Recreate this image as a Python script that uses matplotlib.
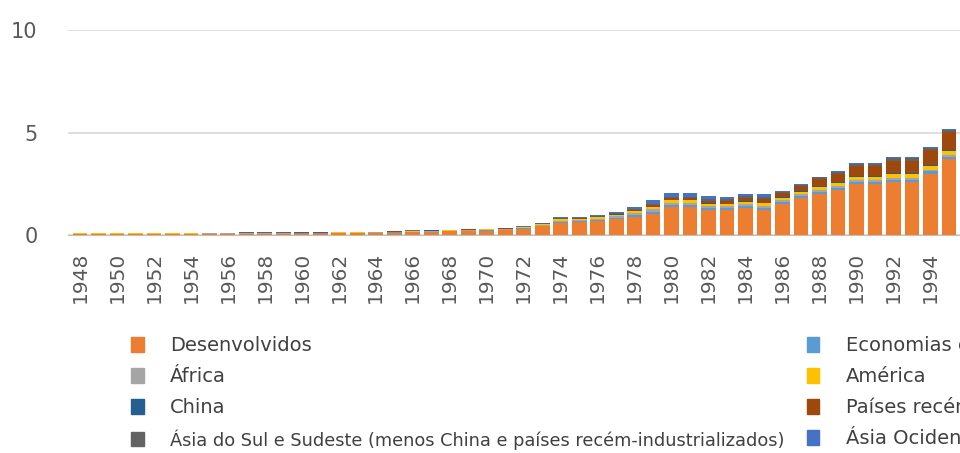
import numpy as np
import matplotlib
matplotlib.use("Agg")
import matplotlib.pyplot as plt
from matplotlib.patches import Patch

years = list(range(1948, 1996))

# values, bottom to top of each stack
desenvolvidos = [.04, .04, .04, .04, .04, .04, .04, .05, .05, .06,
                 .06, .06, .07, .07, .08, .09, .10, .12, .14, .16,
                 .18, .20, .22, .24, .30, .42, .60, .62, .68, .78,
                 .90, 1.05, 1.35, 1.35, 1.2, 1.2, 1.3, 1.2, 1.5, 1.8,
                 2.0, 2.2, 2.5, 2.5, 2.6, 2.6, 3.0, 3.7]
economias = [.01, .01, .01, .01, .01, .01, .01, .01, .01, .01,
             .01, .01, .01, .01, .01, .01, .01, .01, .01, .01,
             .01, .01, .02, .02, .03, .04, .05, .05, .06, .07,
             .08, .10, .10, .10, .10, .10, .10, .12, .10, .10,
             .10, .10, .10, .10, .10, .10, .10, .12]
africa = [.02, .02, .02, .02, .02, .02, .02, .02, .02, .02,
          .02, .02, .02, .02, .02, .02, .02, .02, .02, .02,
          .02, .02, .02, .02, .03, .04, .06, .05, .06, .07,
          .08, .10, .12, .12, .12, .10, .10, .12, .10, .10,
          .10, .10, .10, .10, .10, .10, .08, .10]
america = [.02, .02, .02, .02, .02, .02, .02, .02, .02, .02,
           .02, .02, .02, .02, .02, .02, .02, .02, .03, .03,
           .03, .03, .03, .03, .02, .04, .06, .06, .07, .08,
           .10, .12, .12, .12, .12, .12, .12, .12, .12, .12,
           .15, .15, .15, .15, .18, .18, .20, .20]
china = [.005, .005, .005, .005, .005, .005, .005, .005, .005, .005,
         .005, .005, .005, .005, .005, .005, .005, .005, .005, .005,
         .005, .005, .005, .005, .005, .005, .005, .005, .005, .005,
         .01, .02, .02, .02, .02, .02, .02, .02, .02, .02,
         .03, .03, .03, .03, .04, .04, .05, .05]
recem_ind = [.005, .005, .005, .005, .005, .005, .005, .005, .005, .005,
             .005, .005, .005, .005, .005, .005, .005, .005, .005, .005,
             .01, .01, .01, .01, .01, .015, .03, .03, .03, .04,
             .05, .07, .08, .08, .10, .10, .15, .18, .20, .25,
             .35, .40, .50, .50, .60, .60, .70, .85]
asia_sul = [.01, .01, .01, .01, .01, .01, .01, .01, .01, .01,
            .01, .01, .01, .01, .01, .01, .01, .01, .01, .01,
            .01, .01, .01, .01, .015, .02, .03, .04, .04, .04,
            .05, .08, .08, .08, .10, .10, .10, .12, .07, .07,
            .08, .08, .08, .08, .13, .13, .12, .10]
asia_ocid = [.005, .005, .005, .005, .005, .005, .005, .005, .005, .005,
             .005, .005, .005, .005, .005, .005, .005, .005, .005, .005,
             .005, .005, .005, .005, .01, .02, .04, .04, .05, .06,
             .08, .16, .18, .18, .14, .11, .11, .12, .04, .04,
             .04, .04, .04, .04, .05, .05, .05, .03]

series = [
    ("Desenvolvidos", desenvolvidos, "#ED7D31"),
    ("Economias em transição", economias, "#5B9BD5"),
    ("África", africa, "#A5A5A5"),
    ("América", america, "#FFC000"),
    ("China", china, "#255E91"),
    ("Países recém-industrializados", recem_ind, "#9E480E"),
    ("Ásia do Sul e Sudeste (menos China e países recém-industrializados)", asia_sul, "#636363"),
    ("Ásia Ocidental", asia_ocid, "#4472C4"),
]

fig = plt.figure(figsize=(9.6, 4.53), dpi=100)
ax = fig.add_axes([0.0708, 0.481, 0.9292, 0.453])

bottom = np.zeros(len(years))
for name, vals, col in series:
    ax.bar(years, vals, bottom=bottom, width=0.8, color=col, label=name, zorder=3)
    bottom += np.array(vals)

ax.set_xlim(1947.35, 1995.6)
ax.set_ylim(0, 10)
ax.set_yticks([0, 5, 10])
ax.set_xticks(years[::2])
ax.set_xticklabels([str(y) for y in years[::2]], rotation=90)
ax.tick_params(axis="both", length=0, colors="#595959", labelsize=15)
ax.tick_params(axis="x", labelsize=14.5, pad=12)
ax.tick_params(axis="y", pad=22)
ax.grid(axis="y", color="#D9D9D9", linewidth=1.2, zorder=0)
for s in ["top", "right", "left"]:
    ax.spines[s].set_visible(False)
ax.spines["bottom"].set_color("#BFBFBF")

# column order like the original (filled column by column)
# the right column runs past the edge of the picture, as in the original
order = [0, 2, 4, 6, 1, 3, 5, 7]
handles = [Patch(color=series[i][2]) for i in order]
labels = [series[i][0] for i in order]
leg = fig.legend(handles, labels, loc="upper left", bbox_to_anchor=(0.1365, 0.258),
                 ncol=2, frameon=False, fontsize=14, handlelength=0.65, handleheight=0.8,
                 handletextpad=1.35, labelspacing=0.62, columnspacing=1.15, borderpad=0,
                 borderaxespad=0)
for t in leg.get_texts():
    t.set_color("#404040")
leg.get_texts()[3].set_fontsize(12.8)

fig.savefig("out.png", dpi=100)
